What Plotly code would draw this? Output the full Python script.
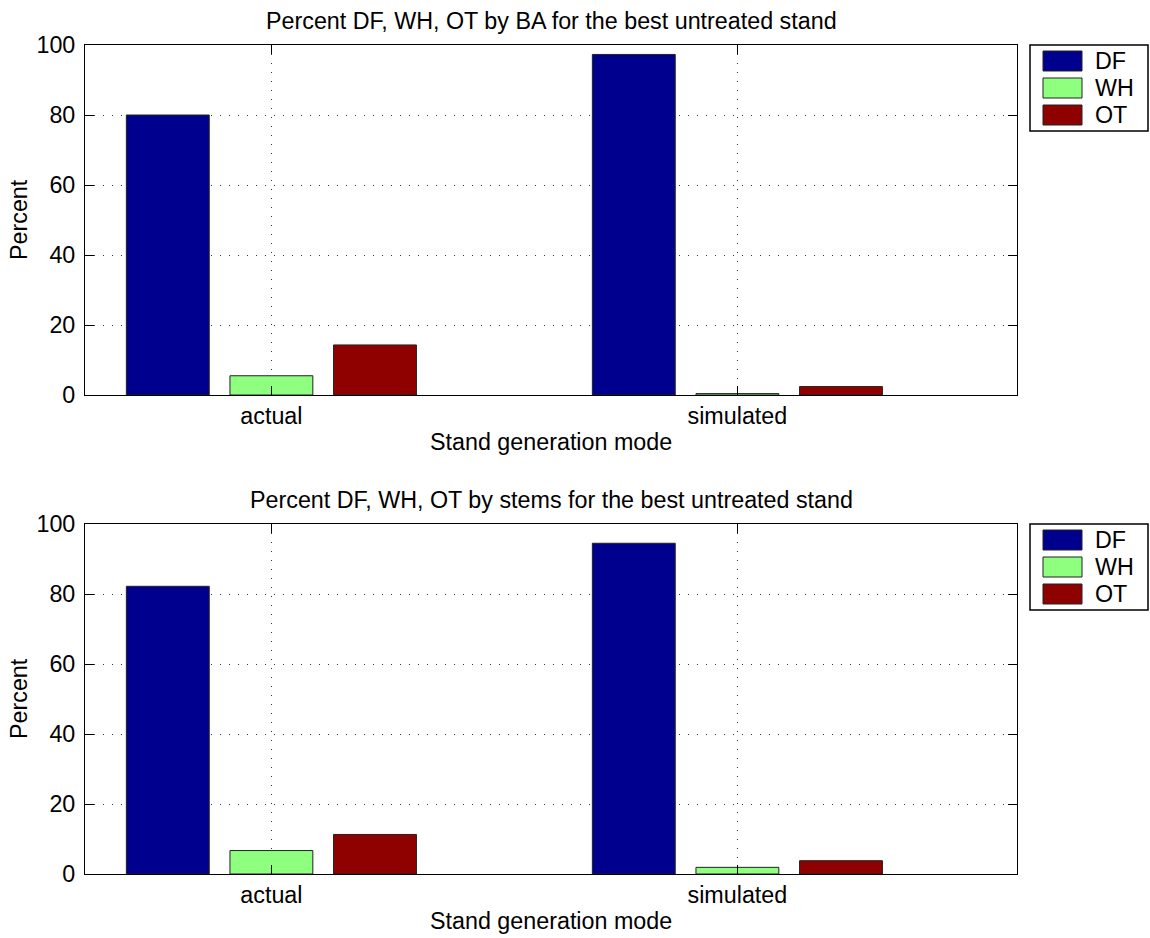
import plotly.graph_objects as go

categories = ["actual", "simulated"]
series_names = ["DF", "WH", "OT"]
series_colors = ["#00008F", "#8FFF80", "#8F0000"]

ba_values = {
    "DF": [80.0, 97.3],
    "WH": [5.5, 0.4],
    "OT": [14.3, 2.4],
}
stems_values = {
    "DF": [82.2, 94.5],
    "WH": [6.7, 1.9],
    "OT": [11.3, 3.8],
}

titles = [
    "Percent DF, WH, OT by BA for the best untreated stand",
    "Percent DF, WH, OT by stems for the best untreated stand",
]
x_title = "Stand generation mode"
y_title = "Percent"
y_ticks = [0, 20, 40, 60, 80, 100]

W, H = 1150, 938
FONT = "Liberation Sans, Arial, sans-serif"
FS = 23.3

def px(x):
    return x / W

def py(y):
    return 1 - y / H

areas = [(85, 1017, 45, 395), (85, 1017, 524, 874)]

fig = go.Figure()
datasets = [ba_values, stems_values]
for i, data in enumerate(datasets):
    xa = "x" if i == 0 else "x2"
    ya = "y" if i == 0 else "y2"
    for name, color in zip(series_names, series_colors):
        fig.add_trace(go.Bar(
            x=categories, y=data[name], name=name,
            marker=dict(color=color, line=dict(color="#222222", width=1)),
            xaxis=xa, yaxis=ya, showlegend=False,
        ))

axis_common = dict(
    showline=True, linecolor="black", linewidth=1, mirror="allticks",
    ticks="inside", ticklen=9, tickcolor="black",
    showgrid=True, gridcolor="#333333", gridwidth=1, griddash="1px,8px",
    zeroline=False, automargin=False,
    tickfont=dict(family=FONT, size=FS, color="black"),
)

layout = dict(
    width=W, height=H, margin=dict(l=0, r=0, t=0, b=0, pad=0, autoexpand=False),
    paper_bgcolor="white", plot_bgcolor="white",
    barmode="group", bargap=0.333, bargroupgap=0.2,
    font=dict(family=FONT, size=FS, color="black"),
    showlegend=False,
)
for i, (l, r, t, b) in enumerate(areas):
    sx = "xaxis" if i == 0 else "xaxis2"
    sy = "yaxis" if i == 0 else "yaxis2"
    layout[sx] = dict(axis_common, domain=[px(l), px(r)], range=[-0.4, 1.6],
                      type="category", anchor="y" if i == 0 else "y2")
    layout[sy] = dict(axis_common, domain=[py(b), py(t)], range=[0, 100],
                      tickvals=y_ticks, anchor="x" if i == 0 else "x2",
                      ticklabelstandoff=4)
fig.update_layout(**layout)

annotations = []
shapes = []
for i, (l, r, t, b) in enumerate(areas):
    cx = (l + r) / 2
    annotations.append(dict(text=titles[i], x=px(cx), y=py(t - 24), xref="paper", yref="paper",
                            showarrow=False, xanchor="center", yanchor="middle",
                            font=dict(family=FONT, size=FS, color="black")))
    annotations.append(dict(text=x_title, x=px(cx), y=py(b + 47), xref="paper", yref="paper",
                            showarrow=False, xanchor="center", yanchor="middle",
                            font=dict(family=FONT, size=FS, color="black")))
    annotations.append(dict(text=y_title, x=px(19), y=py((t + b) / 2), xref="paper", yref="paper",
                            showarrow=False, xanchor="center", yanchor="middle", textangle=-90,
                            font=dict(family=FONT, size=FS, color="black")))
    lx0, lx1 = 1030, 1148
    ly0, ly1 = t, t + 86
    shapes.append(dict(type="rect", xref="paper", yref="paper",
                       x0=px(lx0), x1=px(lx1), y0=py(ly1), y1=py(ly0),
                       line=dict(color="black", width=1.5), fillcolor="white"))
    for k, (name, color) in enumerate(zip(series_names, series_colors)):
        cy = t + 16 + 27 * k
        shapes.append(dict(type="rect", xref="paper", yref="paper",
                           x0=px(1043), x1=px(1082), y0=py(cy + 10), y1=py(cy - 10),
                           line=dict(color="#222222", width=1), fillcolor=color))
        annotations.append(dict(text=name, x=px(1093), y=py(cy), xref="paper", yref="paper",
                                showarrow=False, xanchor="left", yanchor="middle",
                                font=dict(family=FONT, size=FS, color="black")))

fig.update_layout(annotations=annotations, shapes=shapes)
fig.write_html("out.html")
